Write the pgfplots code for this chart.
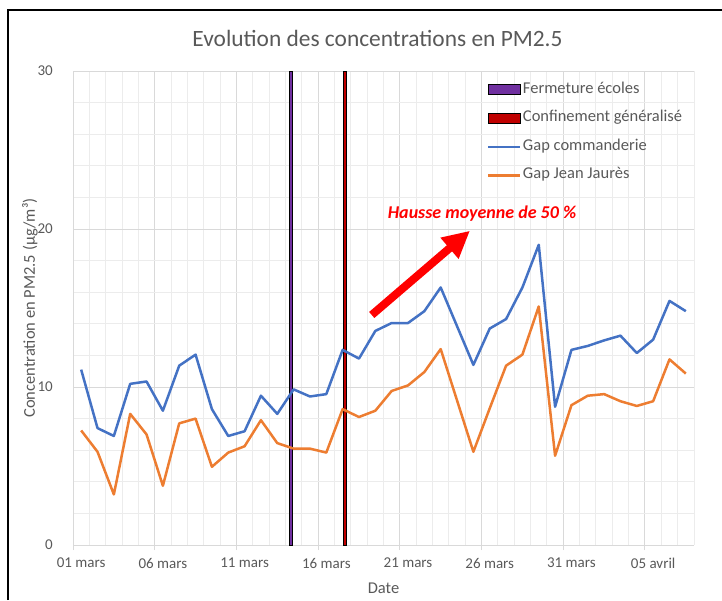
\documentclass[border=0pt]{standalone}
\usepackage{fontspec}
\setmainfont{Carlito}
\usepackage{pgfplots}
\pgfplotsset{compat=1.18}
\usetikzlibrary{arrows.meta}
\definecolor{blueE}{HTML}{4472C4}
\definecolor{orangeE}{HTML}{ED7D31}
\definecolor{purpleE}{HTML}{7030A0}
\definecolor{redE}{HTML}{C00000}
\definecolor{textgray}{HTML}{595959}
\definecolor{gridmaj}{HTML}{D9D9D9}
\definecolor{gridmin}{HTML}{ECECEC}
\begin{document}
\begin{tikzpicture}
\path[use as bounding box] (0pt,0pt) rectangle (722pt,-600pt);
\draw[black, line width=1.5pt] (8pt,-600pt) -- (8pt,-10pt) -- (722pt,-10pt);
\node[text=textgray, font=\fontsize{23.4}{28}\selectfont] at (377.5pt,-38pt) {Evolution des concentrations en PM2.5};
\begin{axis}[
  at={(73pt,-545pt)}, anchor=south west,
  scale only axis, width=621pt, height=474pt,
  xmin=-0.5, xmax=37.5, ymin=0, ymax=30,
  axis lines*=left,
  axis line style={draw=gridmaj, -, line width=1pt},
  grid=both,
  major grid style={draw=gridmaj, line width=1pt},
  minor grid style={draw=gridmin, line width=1pt},
  xtick={-0.5,4.5,...,34.5}, xticklabels={},
  minor xtick={0.5,1.5,...,37.5},
  ytick={0,10,20,30},
  minor ytick={2,4,...,28},
  extra x ticks={0,5,...,35},
  extra x tick labels={01 mars,06 mars,11 mars,16 mars,21 mars,26 mars,31 mars,05 avril},
  extra x tick style={grid=none, major tick length=0pt},
  tick align=outside,
  major tick length=5pt, minor tick length=0pt,
  x tick style={draw=gridmaj, line width=1pt},
  y tick style={draw=none},
  ticklabel style={font=\fontsize{15}{18}\selectfont, text=textgray},
  /pgf/number format/assume math mode=true,
  xticklabel style={inner sep=0pt, anchor=north, yshift=-13pt},
  yticklabel style={inner sep=0pt, anchor=east, xshift=-15pt},
  xlabel={Date},
  ylabel={Concentration en PM2.5 (µg/m³)},
  label style={font=\fontsize{16.5}{20}\selectfont, text=textgray},
  xlabel style={at={(axis description cs:0.5,-0.0907)}, anchor=center},
  ylabel style={at={(axis description cs:-0.0692,0.5)}, anchor=center},
  legend cell align=left,
  legend style={at={(axis description cs:0.666,0.977)}, anchor=north west,
    draw=none, fill=none, inner sep=0pt, row sep=13.6pt,
    font=\fontsize{16.5}{20}\selectfont, text=textgray,
    nodes={inner xsep=1.7pt, inner ysep=0pt, text height=11pt, text depth=4pt}},
]
\addplot[ybar, bar width=3.5pt, bar shift=-2.6pt, fill=purpleE, draw=black, line width=1pt,
  legend image code/.code={\draw[fill=purpleE, draw=black, line width=1pt] (0pt,-5pt) rectangle (32pt,5pt);}]
  coordinates {(13,30)};
\addlegendentry{Fermeture écoles}
\addplot[ybar, bar width=3.5pt, bar shift=2.6pt, fill=redE, draw=black, line width=1pt,
  legend image code/.code={\draw[fill=redE, draw=black, line width=1pt] (0pt,-5pt) rectangle (32pt,5pt);}]
  coordinates {(16,30)};
\addlegendentry{Confinement généralisé}
\addplot[blueE, line width=2.5pt, line join=round, mark=none,
  legend image code/.code={\draw[blueE, line width=2.5pt] (0pt,0pt) -- (32pt,0pt);}]
  coordinates {
  (0,11.1) (1,7.4) (2,6.9) (3,10.2) (4,10.35) (5,8.5) (6,11.35) (7,12.05) (8,8.6) (9,6.9)
  (10,7.2) (11,9.45) (12,8.3) (13,9.85) (14,9.4) (15,9.55) (16,12.35) (17,11.8) (18,13.55) (19,14.05)
  (20,14.05) (21,14.8) (22,16.3) (23,13.85) (24,11.4) (25,13.7) (26,14.3) (27,16.3) (28,19.0) (29,8.75)
  (30,12.35) (31,12.6) (32,12.95) (33,13.25) (34,12.15) (35,13.0) (36,15.45) (37,14.8)};
\addlegendentry{Gap commanderie}
\addplot[orangeE, line width=2.5pt, line join=round, mark=none,
  legend image code/.code={\draw[orangeE, line width=2.5pt] (0pt,0pt) -- (32pt,0pt);}]
  coordinates {
  (0,7.25) (1,5.9) (2,3.2) (3,8.3) (4,7.0) (5,3.75) (6,7.7) (7,8.0) (8,4.95) (9,5.85)
  (10,6.25) (11,7.9) (12,6.45) (13,6.1) (14,6.1) (15,5.85) (16,8.6) (17,8.1) (18,8.5) (19,9.75)
  (20,10.1) (21,10.95) (22,12.4) (23,9.15) (24,5.9) (25,8.65) (26,11.35) (27,12.05) (28,15.1) (29,5.65)
  (30,8.85) (31,9.45) (32,9.55) (33,9.1) (34,8.8) (35,9.1) (36,11.75) (37,10.85)};
\addlegendentry{Gap Jean Jaurès}
\draw[-{Triangle[length=27pt,width=26pt]}, red, line width=8pt] (axis cs:17.78,14.56) -- (axis cs:23.79,19.89);
\node[text=red, font=\fontsize{18}{21}\selectfont\bfseries\itshape] at (axis cs:24.53,20.99) {Hausse moyenne de 50 \%};
\end{axis}
\end{tikzpicture}
\end{document}
